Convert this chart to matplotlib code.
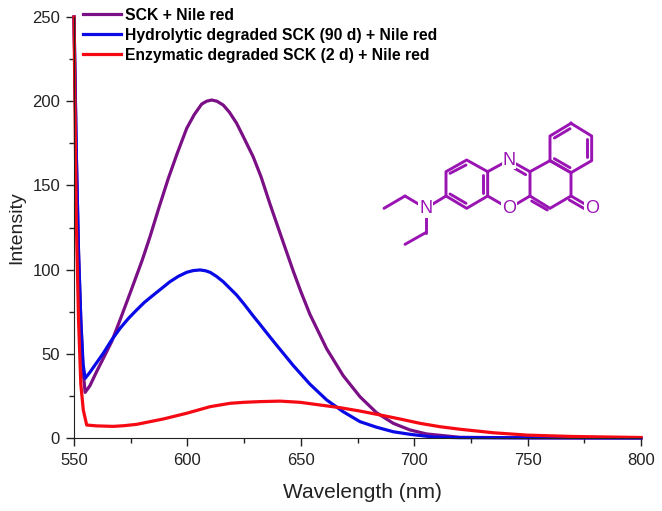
import matplotlib
matplotlib.use('Agg')
import matplotlib.pyplot as plt

plt.rcParams['font.family'] = ['Liberation Sans', 'DejaVu Sans']

# Spectra
wl_sck = [550, 551, 552, 553, 554, 554.9, 557, 560, 563, 566.6, 570, 574.7, 580.1, 583.5, 587.5, 591.6, 595.5, 599.7, 603,
          606.3, 608.5, 610.7, 613, 615.8, 618.5, 621.7, 625, 629, 632.5, 636.4, 642.3, 646.7, 650, 654, 661.4, 668.7,
          676.1, 683.4, 690.8, 698.1, 705.5, 720.2, 750, 800]
int_sck = [250, 170, 110, 70, 40, 27.1, 31, 39.5, 47.5, 57.2, 69, 85.9, 105.7, 119.5, 137, 154.2, 169, 183.9, 192,
           198.3, 200, 200.7, 200, 197.7, 193.5, 186.9, 178, 167, 155, 139, 116, 99, 87, 73.5, 53, 37,
           24.5, 15, 8.7, 4.8, 2.4, 0.4, 0.1, 0]
wl_hyd = [550, 551, 552, 553, 554, 554.9, 557, 562.9, 566.5, 570.3, 574, 577.6, 581, 585, 592.3, 596, 599.7, 602.5, 605.6,
          608, 610, 612.8, 615.8, 621.7, 625, 629, 632, 636.4, 639.4, 646.7, 654, 661.4, 668.7, 676.1, 683.4, 690.8,
          698.1, 708.3, 720, 800]
int_hyd = [250, 170, 110, 70, 44, 35.4, 39, 50.3, 58, 65.1, 71, 76, 80.5, 84.9, 92.8, 96, 98.4, 99.4, 99.8,
           99.3, 98.4, 96, 92.8, 84.9, 79.5, 72.5, 67.5, 60, 55, 43, 32, 22.6, 15.6, 9.7, 6.4, 3.7,
           2.2, 0.6, 0.2, 0]
wl_enz = [550, 551, 552, 553, 554.1, 555.6, 560, 567.3, 572, 577.6, 589.4, 599.7, 610, 618.8, 625, 632, 640.8, 649.6,
          658.5, 667.3, 676.1, 684.9, 693.7, 702.6, 711.4, 720.2, 735, 750, 770, 800]
int_enz = [250, 130, 70, 32, 16.6, 7.7, 7.2, 6.9, 7.3, 8.1, 11.3, 14.7, 18.6, 20.6, 21.2, 21.6, 21.9, 21.2,
           19.6, 18, 16, 13.7, 11.3, 8.7, 6.7, 5.2, 3.1, 1.7, 0.9, 0.3]

labels = ['SCK + Nile red', 'Hydrolytic degraded SCK (90 d) + Nile red', 'Enzymatic degraded SCK (2 d) + Nile red']
colors = ['#7b0f85', '#0a0ae6', '#f50a14']

# Nile red structure, in zoomed picture units
rings = [
    [(633, 40), (695, 78), (695, 152), (633, 188), (570, 152), (570, 78)],
    [(570, 152), (633, 188), (633, 258), (570, 295), (510, 258), (510, 185)],
    [(383, 185), (320, 150), (258, 185), (258, 258), (320, 295), (383, 258)],
]
bonds = [((510, 185), (447, 150)), ((447, 150), (383, 185)), ((510, 258), (447, 295)), ((447, 295), (383, 258)),
         ((258, 258), (197, 295)), ((197, 295), (135, 258)), ((135, 258), (72, 295)),
         ((197, 295), (197, 368)), ((197, 368), (135, 403)), ((633, 258), (697, 295))]
inner = [((583, 84), (630, 56)), ((682, 88), (682, 142)), ((583, 146), (630, 173)),
         ((450, 167), (497, 194)), ((515, 273), (562, 300)), ((370, 195), (370, 248)),
         ((270, 190), (318, 165)), ((270, 252), (318, 280)), ((628, 270), (675, 297))]
atoms = [('N', 447, 150), ('O', 447, 295), ('N', 197, 295), ('O', 697, 295)]
mol_color = '#9a14b4'

fig = plt.figure(figsize=(6.62, 5.11), dpi=100)
ax = fig.add_axes([74 / 662, 1 - 438 / 511, (641 - 74) / 662, (438 - 17) / 511])

for wl, inten, col, lab in [(wl_sck, int_sck, colors[0], labels[0]), (wl_hyd, int_hyd, colors[1], labels[1]),
                            (wl_enz, int_enz, colors[2], labels[2])]:
    ax.plot(wl, inten, color=col, lw=2.3, label=lab, clip_on=False, solid_joinstyle='round')

ax.set_xlim(550, 800)
ax.set_ylim(0, 250)
ax.set_xticks([550, 600, 650, 700, 750, 800])
ax.set_xticks([575, 625, 675, 725, 775], minor=True)
ax.set_yticks([0, 50, 100, 150, 200, 250])
ax.set_yticks([25, 75, 125, 175, 225], minor=True)
ax.tick_params(which='major', length=6, width=1, labelsize=12, color='#222222', labelcolor='#222222')
ax.tick_params(axis='x', which='major', pad=5)
ax.tick_params(axis='y', which='major', pad=4)
ax.tick_params(which='minor', length=3.5, width=1, color='#222222')
ax.spines['top'].set_visible(False)
ax.spines['right'].set_visible(False)
ax.spines['left'].set_color('#222222')
ax.spines['bottom'].set_color('#222222')
ax.set_xlabel('Wavelength (nm)', fontsize=15, labelpad=10.5, color='#222222', x=0.508)
ax.set_ylabel('Intensity', fontsize=14, labelpad=5, color='#222222')

ax.legend(loc='upper left', bbox_to_anchor=(0.016, 1.022), frameon=False, handlelength=2.4, handletextpad=0.3,
          labelspacing=0.32, borderpad=0, borderaxespad=0, prop={'weight': 'bold', 'size': 11.3})

# overlay in zoom units for the molecule (crop at 360,110 scaled 3x)
mol = fig.add_axes([0, 0, 1, 1], facecolor='none')
mol.set_xlim(-360 * 3, (662 - 360) * 3)
mol.set_ylim((511 - 110) * 3, -110 * 3)
mol.axis('off')
for ring in rings:
    pts = ring + [ring[0]]
    mol.plot([p[0] for p in pts], [p[1] for p in pts], color=mol_color, lw=2.1, solid_joinstyle='round')
for a, b in bonds + inner:
    mol.plot([a[0], b[0]], [a[1], b[1]], color=mol_color, lw=2.1, solid_capstyle='round')
for s, x, y in atoms:
    mol.text(x, y, s, color=mol_color, fontsize=13, ha='center', va='center',
             bbox=dict(facecolor='white', edgecolor='none', pad=0.6))

fig.savefig('out.png', dpi=100)
